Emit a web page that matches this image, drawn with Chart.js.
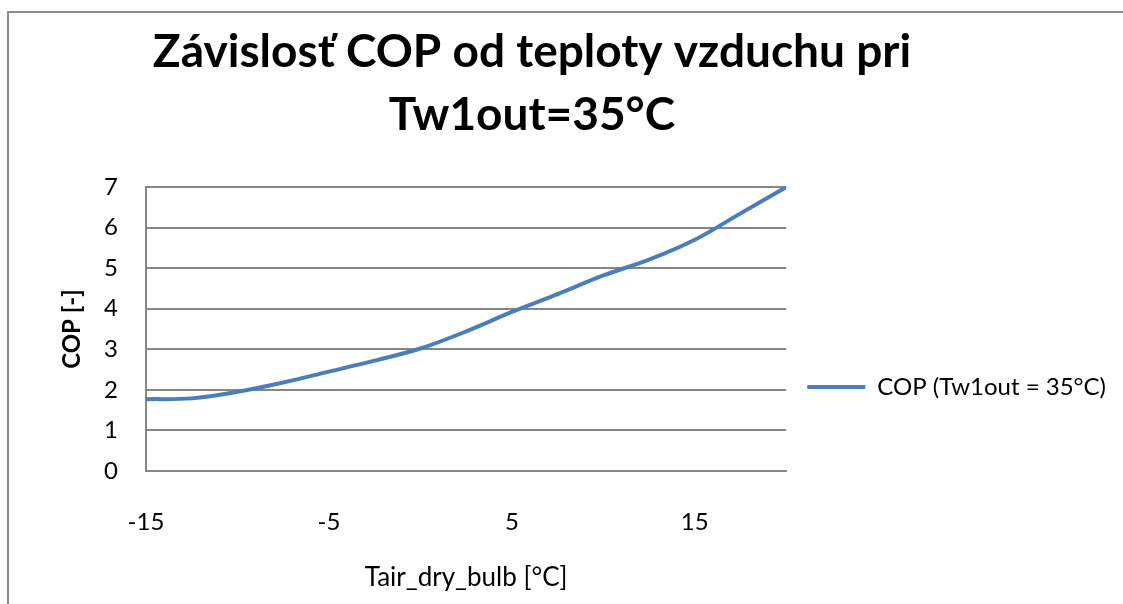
<!DOCTYPE html>
<html>
<head>
<meta charset="utf-8">
<script src="https://cdn.jsdelivr.net/npm/chart.js@4.4.1/dist/chart.umd.min.js"></script>
<style>
  html, body { margin: 0; padding: 0; background: #fff; overflow: hidden; }
  body { width: 1123px; height: 604px; position: relative; }
  .frame {
    position: absolute; left: 7px; top: 11px; width: 1200px; height: 700px;
    border-left: 2px solid #8c8c8c; border-top: 2px solid #8c8c8c;
  }
  #wrap { position: absolute; left: -52px; top: 0; width: 1168px; height: 604px; }
</style>
</head>
<body>
<div class="frame"></div>
<div id="wrap"><canvas id="cop-chart"></canvas></div>
<script>
// air temperature [°C] and COP
var Temps = [-15, -12.5, -10, -7.5, -5, -2.5, 0, 2.5, 5, 7.5, 10, 12.5, 15, 17.5, 20];
var Cop = [1.77, 1.79, 1.95, 2.18, 2.45, 2.72, 3.02, 3.44, 3.92, 4.36, 4.82, 5.21, 5.70, 6.35, 7.00];
var xTicks = [-15, -5, 5, 15];
var titleLines = ['Závislosť COP od teploty vzduchu pri', 'Tw1out=35°C'];
var seriesName = 'COP (Tw1out = 35°C)';
var xTitle = 'Tair_dry_bulb [°C]';
var yTitle = 'COP [-]';

var gridColor = '#868686';
var fontName = 'Lato, "Open Sans", sans-serif';

function createLineChart(x, y) {
    let points = [];
    for (let i = 0; i < x.length; i++) {
        points.push({ x: x[i], y: y[i] });
    }

    let lineChart = new Chart('cop-chart', {
        type: 'line',
        data: {
            datasets: [{
                label: seriesName,
                data: points,
                borderColor: '#4a7ebb',
                backgroundColor: '#4a7ebb',
                borderWidth: 4,
                pointRadius: 0,
                pointStyle: 'line',
                tension: 0.35,
                fill: false
            }]
        },
        options: {
            responsive: true,
            maintainAspectRatio: false,
            animation: false,
            layout: { padding: 0 },
            plugins: {
                title: {
                    display: true,
                    text: titleLines,
                    color: '#000',
                    font: { family: fontName, size: 46, weight: 'bold', lineHeight: '63px' },
                    padding: { top: 20.5, bottom: 40.5 }
                },
                legend: {
                    position: 'right',
                    fullSize: false,
                    maxWidth: 400,
                    // empty title only pushes the entry down to where it sits in the original
                    title: { display: true, text: '', padding: { top: 101.6, bottom: 0 } },
                    labels: {
                        usePointStyle: true,
                        pointStyleWidth: 58,
                        padding: 21,
                        color: '#000',
                        font: { family: fontName, size: 24 }
                    }
                },
                tooltip: { enabled: false }
            },
            scales: {
                x: {
                    type: 'linear',
                    min: -15,
                    max: 20,
                    afterBuildTicks: function (axis) {
                        axis.ticks = xTicks.map(v => ({ value: v }));
                    },
                    afterFit: function (scale) {
                        scale.height = 133;
                    },
                    grid: { display: false, drawTicks: false },
                    border: { display: true, color: gridColor, width: 2 },
                    ticks: {
                        color: '#000',
                        padding: 37,
                        maxRotation: 0,
                        font: { family: fontName, size: 24 }
                    },
                    title: {
                        display: true,
                        text: xTitle,
                        color: '#000',
                        font: { family: fontName, size: 26, lineHeight: 1.2 },
                        padding: { top: 0, bottom: 11 }
                    }
                },
                y: {
                    min: 0,
                    max: 7,
                    afterFit: function (scale) {
                        scale.width = 198;
                    },
                    grid: { color: gridColor, lineWidth: 2, drawTicks: false },
                    border: { display: true, color: gridColor, width: 2 },
                    ticks: {
                        stepSize: 1,
                        color: '#000',
                        padding: 28,
                        font: { family: fontName, size: 24 }
                    },
                    title: {
                        display: true,
                        text: yTitle,
                        color: '#000',
                        font: { family: fontName, size: 24, weight: 'bold', lineHeight: 1.2 },
                        padding: { top: 109.6, bottom: 0 }
                    }
                }
            }
        }
    });
}

createLineChart(Temps, Cop);
</script>
</body>
</html>
